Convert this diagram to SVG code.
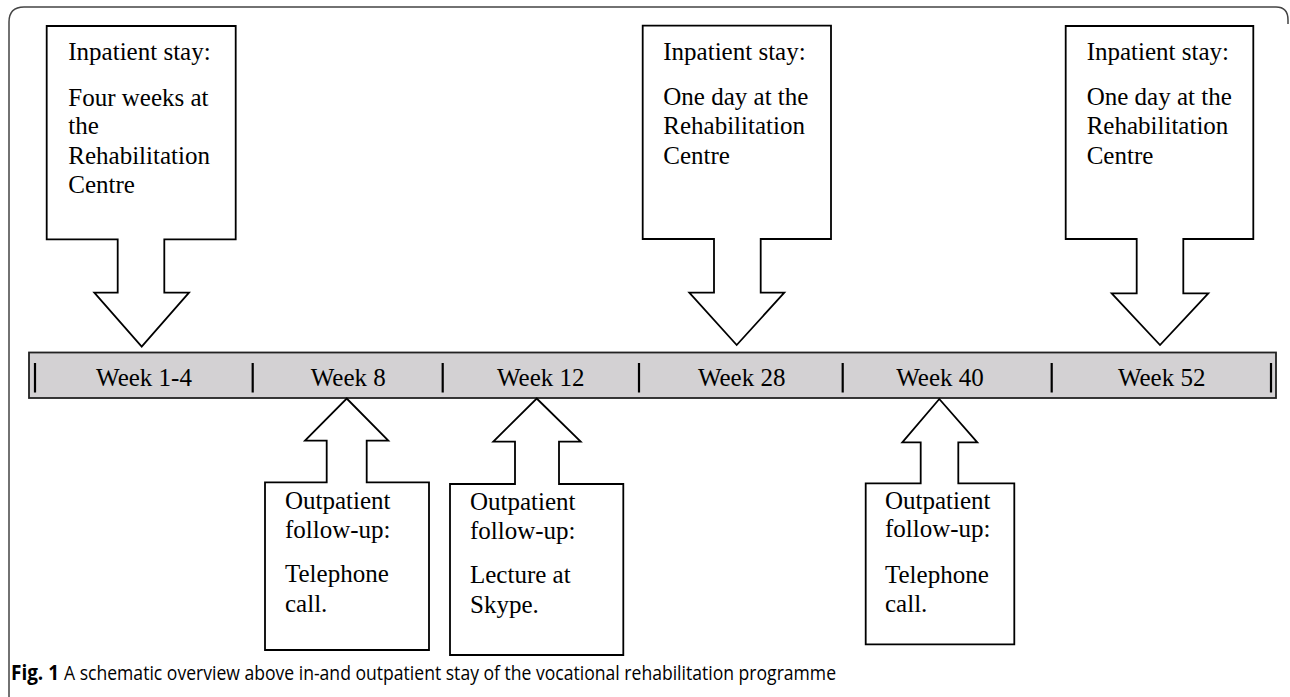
<svg xmlns="http://www.w3.org/2000/svg" width="1290" height="697" viewBox="0 0 1290 697">
<style>
.frame{fill:none;stroke:#444;stroke-width:1.5}
.call{fill:#fff;stroke:#000;stroke-width:1.8;stroke-linejoin:miter}
.bar{fill:#d3d1d3;stroke:#222;stroke-width:1.8}
.tick{stroke:#000;stroke-width:2.2}
.t{font-family:"Liberation Serif","Times New Roman",serif;font-size:25px;fill:#000}
.wk{font-family:"Liberation Serif","Times New Roman",serif;font-size:25px;fill:#000;text-anchor:middle}
.cap{font-family:"Open Sans","Liberation Sans",sans-serif;font-size:20.5px;fill:#000}
</style>
<rect width="1290" height="697" fill="#fff"/>
<path class="frame" d="M9,697 V22 Q9,7 24,7 H1276 Q1288,7 1288,20 V24"/>

<g id="timeline">
<rect class="bar" x="29" y="352.5" width="1247" height="45.5"/>
<g id="ticks">
<line class="tick" x1="35" y1="363" x2="35" y2="392.5"/>
<line class="tick" x1="252.7" y1="363" x2="252.7" y2="392.5"/>
<line class="tick" x1="442.7" y1="363" x2="442.7" y2="392.5"/>
<line class="tick" x1="639" y1="363" x2="639" y2="392.5"/>
<line class="tick" x1="842.7" y1="363" x2="842.7" y2="392.5"/>
<line class="tick" x1="1051.7" y1="363" x2="1051.7" y2="392.5"/>
<line class="tick" x1="1271" y1="363" x2="1271" y2="392.5"/>
</g>
<text class="wk" x="144" y="386">Week 1-4</text>
<text class="wk" x="348.3" y="386">Week 8</text>
<text class="wk" x="540.8" y="386">Week 12</text>
<text class="wk" x="741.7" y="386">Week 28</text>
<text class="wk" x="940" y="386">Week 40</text>
<text class="wk" x="1161.7" y="386">Week 52</text>
</g>

<g id="connectors">
</g>

<g id="in1">
<path class="call" d="M46.7,26 H235.7 V239.3 H164.3 V292.7 H189 L141.7,346.7 L94.3,292.7 H117.7 V239.3 H46.7 Z"/>
<text class="t" x="68.3" y="60">Inpatient stay:</text>
<text class="t" x="68.3" y="105.5">Four weeks at</text>
<text class="t" x="68.3" y="134">the</text>
<text class="t" x="68.3" y="163.5">Rehabilitation</text>
<text class="t" x="68.3" y="193">Centre</text>
</g>

<g id="in28">
<path class="call" d="M642.7,25.7 H831 V239 H760.7 V292.7 H784.3 L736.7,345 L689.3,292.7 H714 V239 H642.7 Z"/>
<text class="t" x="663.3" y="60">Inpatient stay:</text>
<text class="t" x="663.3" y="105">One day at the</text>
<text class="t" x="663.3" y="134">Rehabilitation</text>
<text class="t" x="663.3" y="163.5">Centre</text>
</g>

<g id="in52">
<path class="call" d="M1065.7,26 H1253.3 V239 H1183.3 V293.3 H1208.3 L1160,345 L1111.7,293.3 H1136.7 V239 H1065.7 Z"/>
<text class="t" x="1086.7" y="60">Inpatient stay:</text>
<text class="t" x="1086.7" y="105">One day at the</text>
<text class="t" x="1086.7" y="134">Rehabilitation</text>
<text class="t" x="1086.7" y="163.5">Centre</text>
</g>

<g id="out8">
<path class="call" d="M346.7,398.5 L388.3,440.7 H366.7 V482.3 H429 V650 H265 V482.3 H326.7 V440.7 H305 Z"/>
<text class="t" x="285" y="508.5">Outpatient</text>
<text class="t" x="285" y="538">follow-up:</text>
<text class="t" x="285" y="582">Telephone</text>
<text class="t" x="285" y="611.7">call.</text>
</g>

<g id="out12">
<path class="call" d="M536.7,398.5 L580.7,441.7 H559 V484 H623.3 V655 H450 V484 H515 V441.7 H493.3 Z"/>
<text class="t" x="470" y="510">Outpatient</text>
<text class="t" x="470" y="539.3">follow-up:</text>
<text class="t" x="470" y="583.3">Lecture at</text>
<text class="t" x="470" y="613.3">Skype.</text>
</g>

<g id="out40">
<path class="call" d="M939.3,399 L977.3,442.3 H958.3 V483.3 H1014.3 V644.3 H865.7 V483.3 H920.7 V442.3 H902.3 Z"/>
<text class="t" x="885" y="508.5">Outpatient</text>
<text class="t" x="885" y="537">follow-up:</text>
<text class="t" x="885" y="583.3">Telephone</text>
<text class="t" x="885" y="611.7">call.</text>
</g>

<g id="caption">
<text class="cap" x="11" y="680" font-weight="bold" textLength="48" lengthAdjust="spacingAndGlyphs">Fig. 1</text>
<text class="cap" x="64" y="680" textLength="772" lengthAdjust="spacingAndGlyphs">A schematic overview above in-and outpatient stay of the vocational rehabilitation programme</text>
</g>
</svg>
